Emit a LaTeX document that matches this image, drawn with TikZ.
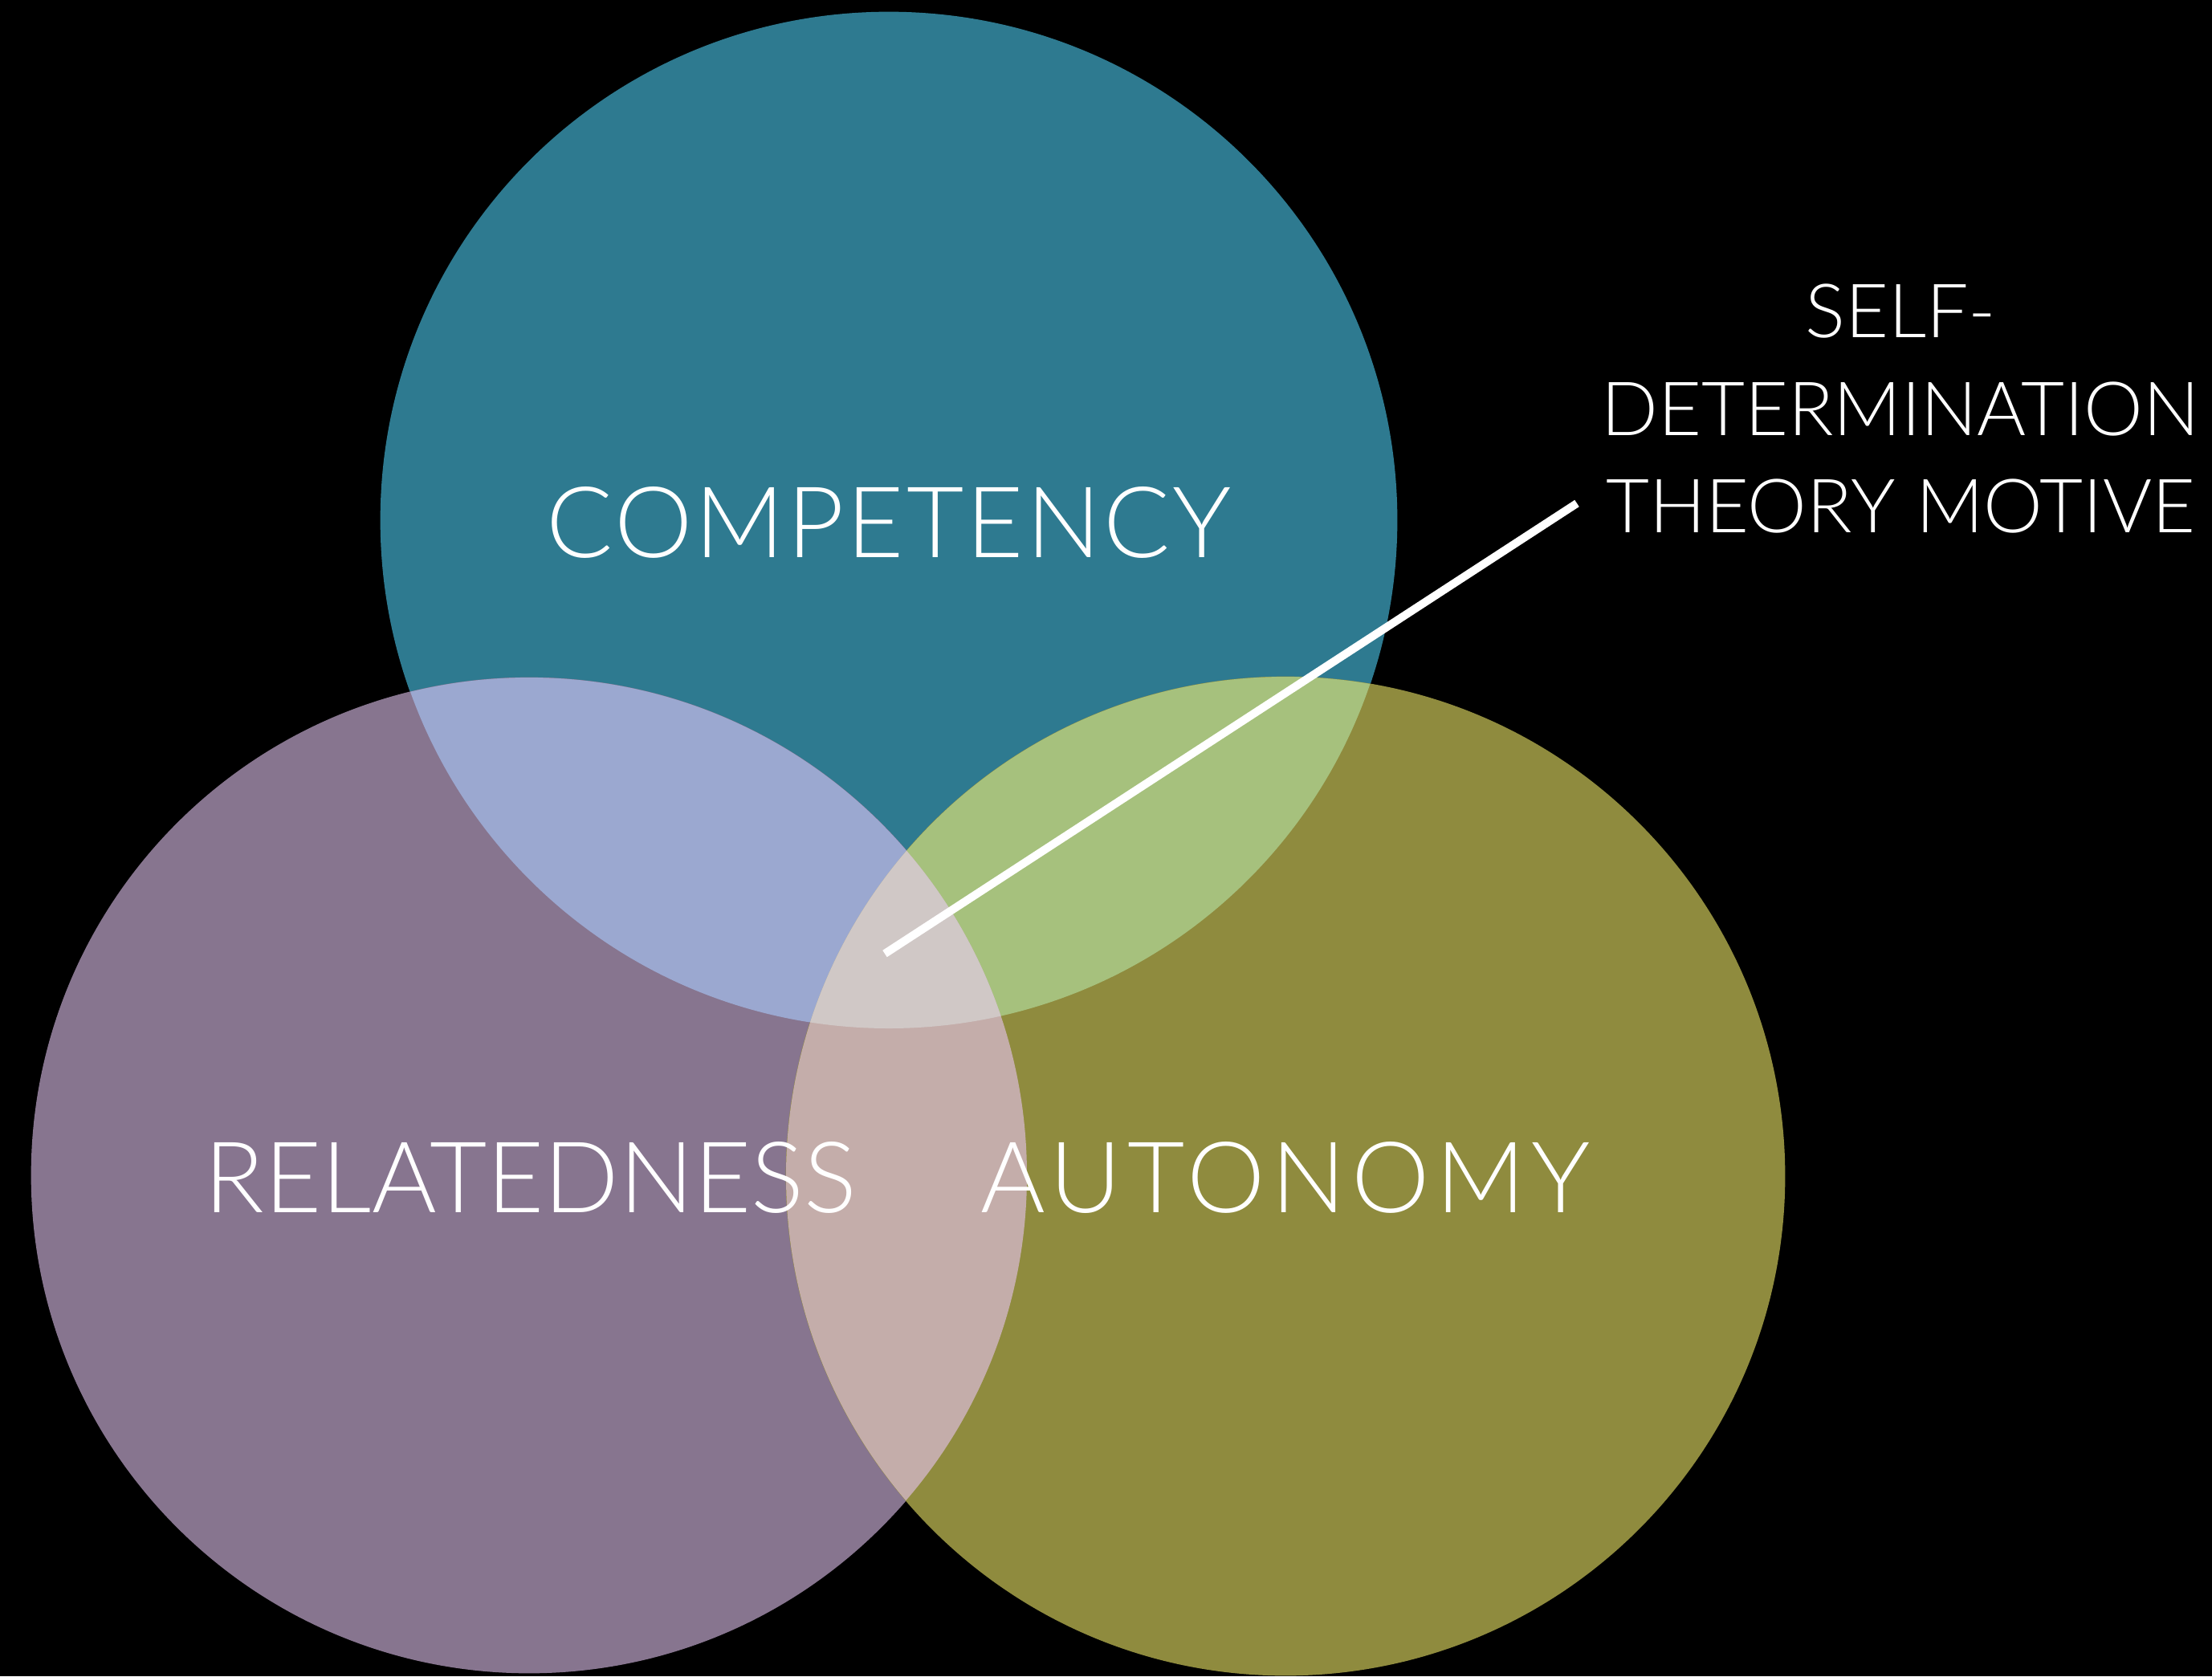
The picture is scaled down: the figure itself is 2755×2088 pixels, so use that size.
\documentclass[tikz,border=0pt]{standalone}
\usepackage{fontspec}
\setmainfont{Lato Light}
\begin{document}
\begin{tikzpicture}[x=0.01cm,y=-0.01cm,
  lbl/.style={text=white,inner sep=0pt,font=\fontsize{35}{42}\selectfont},
  sidelbl/.style={text=white,inner sep=0pt,align=center,font=\fontsize{26.5}{34.6}\selectfont},
  venn/.style={circle,inner sep=0pt,draw=none}]
\definecolor{cTop}{RGB}{46,122,144}
\definecolor{cLeft}{RGB}{135,117,143}
\definecolor{cRight}{RGB}{143,139,62}
\definecolor{cTL}{RGB}{155,168,208}
\definecolor{cTR}{RGB}{166,193,125}
\definecolor{cLR}{RGB}{196,173,170}
\definecolor{cMid}{RGB}{208,200,198}
\useasboundingbox[fill=black] (0,0) rectangle (2755,2088);
\node[venn,fill=cTop,minimum size=12.66cm] (top) at (1107,648) {};
\node[venn,fill=cLeft,minimum size=12.40cm] (left) at (659,1464) {};
\node[venn,fill=cRight,minimum size=12.44cm] (right) at (1601,1465) {};
\begin{scope}
  \clip (1107,648) circle (633);
  \fill[cTL] (659,1464) circle (620);
\end{scope}
\begin{scope}
  \clip (1107,648) circle (633);
  \fill[cTR] (1601,1465) circle (622);
\end{scope}
\begin{scope}
  \clip (659,1464) circle (620);
  \fill[cLR] (1601,1465) circle (622);
\end{scope}
\begin{scope}
  \clip (1107,648) circle (633);
  \clip (659,1464) circle (620);
  \fill[cMid] (1601,1465) circle (622);
\end{scope}
\coordinate (lineA) at (1102,1188);
\coordinate (lineB) at (1964,627);
\draw[white,line width=0.1cm] (lineA) -- (lineB);
\node[lbl,anchor=base] (comp) at (1107,694) {\addfontfeatures{LetterSpace=2.5}COMPETENCY};
\node[lbl,anchor=base] (rel) at (661,1510) {RELATEDNESS};
\node[lbl,anchor=base] (aut) at (1601,1510) {\addfontfeatures{LetterSpace=6}AUTONOMY};
\node[sidelbl,anchor=north] (sdt) at (2367,353) {SELF-\\DETERMINATION\\THEORY MOTIVE};
\end{tikzpicture}
\end{document}
